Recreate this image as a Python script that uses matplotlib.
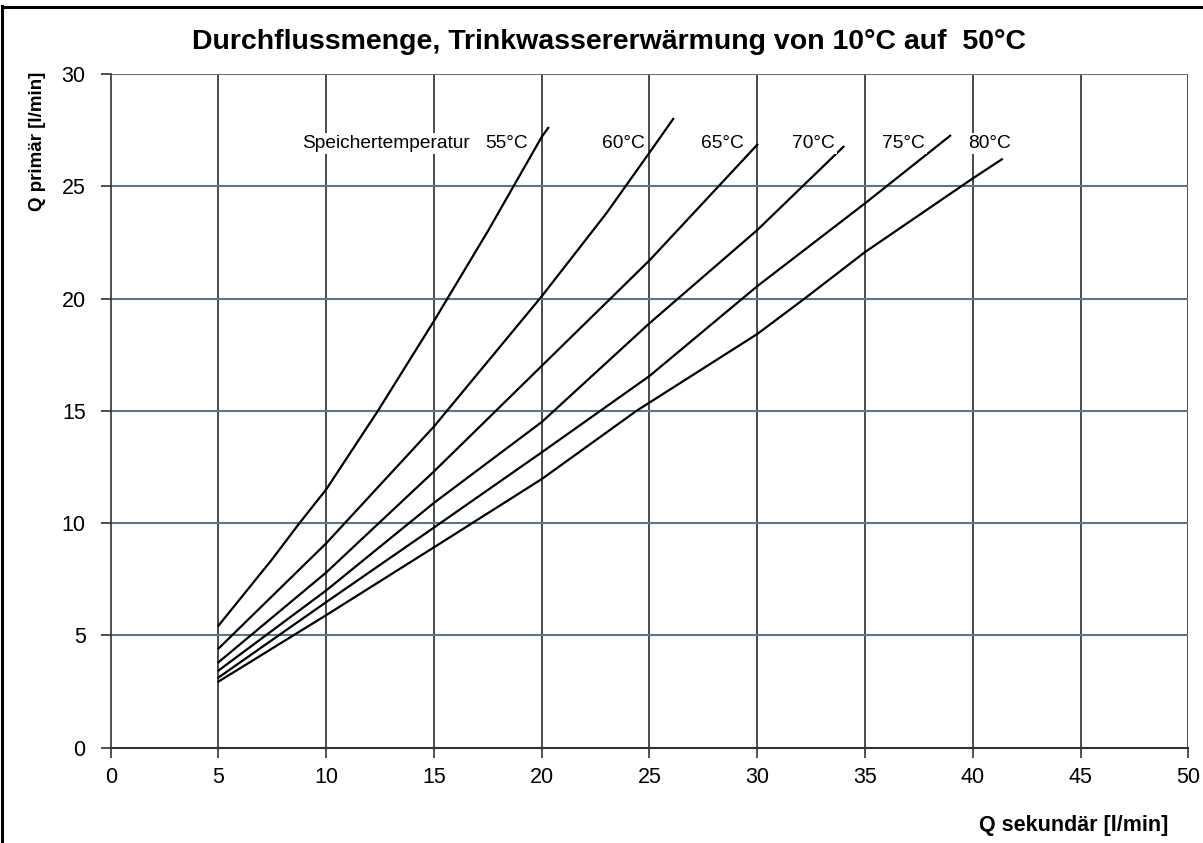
import matplotlib
matplotlib.use("Agg")
import matplotlib.pyplot as plt
from matplotlib.lines import Line2D

plt.rcParams['font.family'] = ['Liberation Sans', 'DejaVu Sans']

# Secondary flow (x) and primary flow (y) per storage temperature
q_sek_55 = [5.0, 7.5, 8.76, 10.0, 12.4, 15.0, 17.5, 20.0, 20.3]
q_pri_55 = [5.43, 8.4, 10.0, 11.5, 15.0, 19.0, 23.0, 27.2, 27.6]

q_sek_60 = [5.0, 10.0, 15.0, 20.0, 23.0, 25.0, 26.1]
q_pri_60 = [4.41, 9.1, 14.3, 20.1, 23.8, 26.5, 28.0]

q_sek_65 = [5.0, 10.0, 15.0, 20.0, 25.0, 30.0]
q_pri_65 = [3.8, 7.8, 12.3, 17.0, 21.7, 26.85]

q_sek_70 = [5.0, 10.0, 15.0, 20.0, 25.0, 30.0, 34.0]
q_pri_70 = [3.43, 7.0, 10.9, 14.5, 18.9, 23.05, 26.76]

q_sek_75 = [5.0, 10.0, 15.0, 20.0, 25.0, 30.0, 35.0, 38.95]
q_pri_75 = [3.12, 6.48, 9.8, 13.15, 16.55, 20.55, 24.24, 27.25]

q_sek_80 = [5.0, 10.0, 15.0, 20.0, 24.4, 30.0, 32.2, 35.0, 40.0, 41.35]
q_pri_80 = [2.94, 5.9, 8.92, 11.96, 15.0, 18.42, 20.0, 22.07, 25.35, 26.2]

curves = [
    (q_sek_55, q_pri_55),
    (q_sek_60, q_pri_60),
    (q_sek_65, q_pri_65),
    (q_sek_70, q_pri_70),
    (q_sek_75, q_pri_75),
    (q_sek_80, q_pri_80),
]

# Curve labels: text and left x position in data units
curve_labels = ["Speichertemperatur", "55°C", "60°C", "65°C", "70°C", "75°C", "80°C"]
curve_label_x = [8.9, 17.4, 22.8, 27.4, 31.6, 35.8, 39.8]
curve_label_y = 26.9

x_ticks = [0, 5, 10, 15, 20, 25, 30, 35, 40, 45, 50]
y_ticks = [0, 5, 10, 15, 20, 25, 30]

W, H = 1203, 843
fig = plt.figure(figsize=(W / 100, H / 100), dpi=100)
ax = fig.add_axes([110.7 / W, 1 - 747.6 / H, (1188.3 - 110.7) / W, (747.6 - 74) / H])

ax.set_xlim(0, 50)
ax.set_ylim(0, 30)
ax.set_xticks(x_ticks)
ax.set_yticks(y_ticks)

# Grid: dark vertical lines, blue-grey horizontal lines
for xv in x_ticks[1:]:
    ax.axvline(xv, color='#2b2b2b', lw=1.2, zorder=1)
for yv in y_ticks[1:]:
    ax.axhline(yv, color='#5b7689', lw=1.5, zorder=1)

for s in ['top', 'right']:
    ax.spines[s].set_visible(False)
ax.spines['left'].set_color('#333333')
ax.spines['left'].set_linewidth(1.2)
ax.spines['bottom'].set_color('#333333')
ax.spines['bottom'].set_linewidth(1.5)

ax.tick_params(axis='both', direction='out', length=7, width=1.2, color='#333333',
               labelsize=15.5)
ax.tick_params(axis='y', pad=11)
ax.tick_params(axis='x', pad=7)

for xs, ys in curves:
    ax.plot(xs, ys, color='black', lw=1.6, zorder=3)

for txt, xl in zip(curve_labels, curve_label_x):
    ax.text(xl, curve_label_y, txt, ha='left', va='center', fontsize=13.8, zorder=4,
            bbox=dict(facecolor='white', edgecolor='none', pad=1.5))

fig.text(609 / W, 1 - 42 / H, "Durchflussmenge, Trinkwassererwärmung von 10°C auf  50°C",
         ha='center', va='center', fontsize=20.5, fontweight='bold')
fig.text(1168 / W, 1 - 826 / H, "Q sekundär [l/min]", ha='right', va='center',
         fontsize=15.5, fontweight='bold')
fig.text(37 / W, 1 - 72 / H, "Q primär [l/min]", ha='center', va='top',
         rotation=90, fontsize=13.5, fontweight='bold')

# Frame around the figure
fig.add_artist(Line2D([1.5 / W, 1.5 / W], [0, 1 - 6 / H], transform=fig.transFigure,
                      color='black', lw=2.2))
fig.add_artist(Line2D([1.5 / W, 1], [1 - 6.5 / H, 1 - 6.5 / H], transform=fig.transFigure,
                      color='black', lw=2.2))

fig.savefig("out.png", dpi=100)
